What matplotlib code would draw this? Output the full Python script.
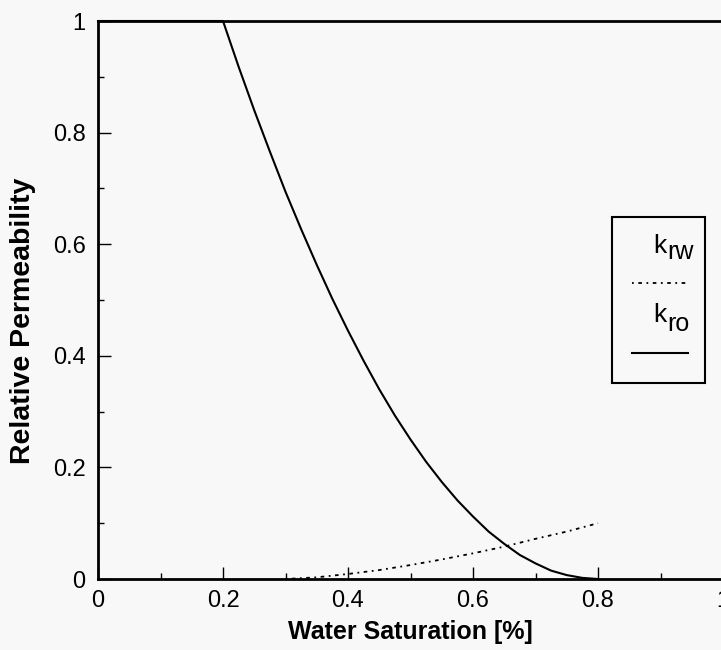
import matplotlib
matplotlib.use("Agg")
import matplotlib.pyplot as plt
from matplotlib.patches import Rectangle
from matplotlib.lines import Line2D
from matplotlib.ticker import MultipleLocator

plt.rcParams['font.family'] = ['Liberation Sans', 'DejaVu Sans']

# relative permeability curves
sw_ro = [0.0, 0.2, 0.225, 0.25, 0.275, 0.3, 0.325, 0.35, 0.375, 0.4, 0.425, 0.45, 0.475,
         0.5, 0.525, 0.55, 0.575, 0.6, 0.625, 0.65, 0.675, 0.7, 0.725, 0.75, 0.775, 0.8]
kro = [1.0, 1.0, 0.918, 0.84, 0.766, 0.694, 0.627, 0.563, 0.502, 0.445, 0.391, 0.34, 0.293,
       0.25, 0.21, 0.174, 0.141, 0.112, 0.085, 0.063, 0.043, 0.028, 0.015, 0.007, 0.002, 0.0]
sw_rw = [0.3, 0.35, 0.4, 0.45, 0.5, 0.55, 0.6, 0.65, 0.7, 0.75, 0.8]
krw = [0.0, 0.003, 0.009, 0.016, 0.025, 0.035, 0.046, 0.058, 0.072, 0.085, 0.1]

xticks = [0, 0.2, 0.4, 0.6, 0.8, 1.0]
xlabels = ['0', '0.2', '0.4', '0.6', '0.8', '1']
yticks = [0, 0.2, 0.4, 0.6, 0.8, 1.0]
ylabels = ['0', '0.2', '0.4', '0.6', '0.8', '1']

W, H = 721, 650
bg = '#f8f8f8'
dotdash = (0, (1, 2.5, 2, 2.5))

fig = plt.figure(figsize=(W / 100, H / 100), dpi=100, facecolor=bg)
ax = fig.add_axes([98 / W, 1 - 579 / H, 625 / W, 558 / H], facecolor=bg)

ax.plot(sw_ro, kro, color='black', lw=1.5, clip_on=False)
ax.plot(sw_rw, krw, color='black', lw=1.3, linestyle=dotdash)

ax.set_xlim(0, 1)
ax.set_ylim(0, 1)
ax.set_xticks(xticks)
ax.set_xticklabels(xlabels)
ax.set_yticks(yticks)
ax.set_yticklabels(ylabels)
ax.xaxis.set_minor_locator(MultipleLocator(0.1))
ax.yaxis.set_minor_locator(MultipleLocator(0.1))
ax.tick_params(which='both', direction='in', labelsize=17, width=1)
ax.tick_params(which='major', length=9)
ax.tick_params(which='minor', length=4)
ax.tick_params(axis='x', pad=8)
ax.tick_params(axis='y', pad=9)
for s in ax.spines.values():
    s.set_linewidth(2)

ax.set_xlabel('Water Saturation [%]', fontsize=18, fontweight='bold')
ax.xaxis.label.set_va('center')
ax.xaxis.set_label_coords(0.499, (579 - 632) / 558)
ax.set_ylabel('Relative Permeability', fontsize=20.5, fontweight='bold')
ax.yaxis.label.set_va('center')
ax.yaxis.set_label_coords((23 - 98) / 625, (579 - 321) / 558)

# legend box: label above each line sample
fig.patches.append(Rectangle((612 / W, 1 - 383 / H), 93 / W, 166 / H,
                             transform=fig.transFigure, fill=False,
                             edgecolor='black', lw=1.5))
fig.text(653 / W, 1 - 253 / H, 'k', fontsize=19, ha='left', va='baseline')
fig.text(667 / W, 1 - 259 / H, 'rw', fontsize=18, ha='left', va='baseline')
fig.lines.append(Line2D([632 / W, 688 / W], [1 - 283 / H] * 2, transform=fig.transFigure,
                        color='black', lw=1.3, linestyle=dotdash))
fig.text(653 / W, 1 - 322 / H, 'k', fontsize=19, ha='left', va='baseline')
fig.text(667 / W, 1 - 331 / H, 'ro', fontsize=18, ha='left', va='baseline')
fig.lines.append(Line2D([632 / W, 688 / W], [1 - 353 / H] * 2, transform=fig.transFigure,
                        color='black', lw=1.5))

fig.savefig('out.png', dpi=100, facecolor=bg)
